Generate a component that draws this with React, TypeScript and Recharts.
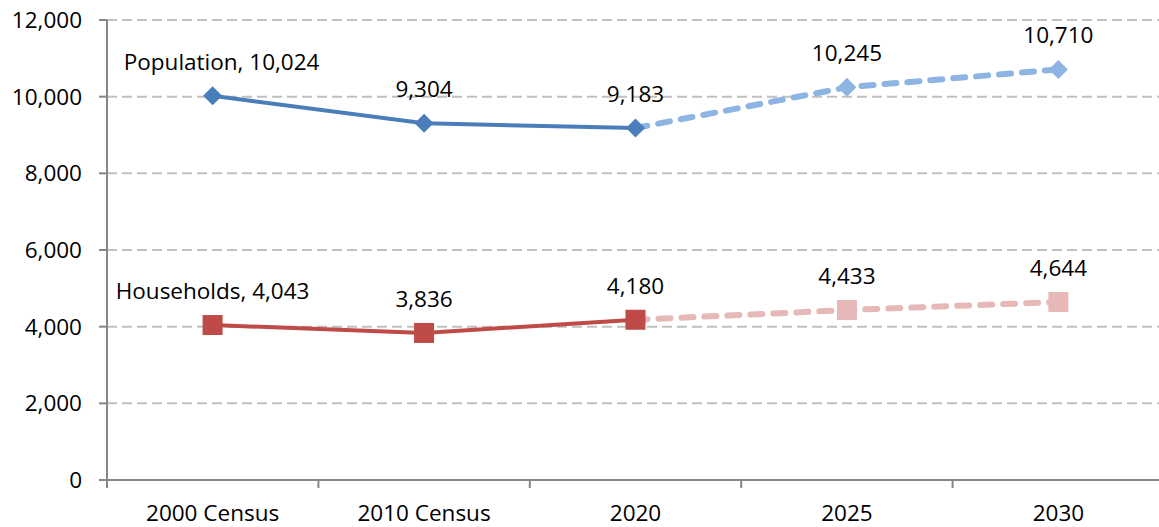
import React from 'react';
import { LineChart, Line, XAxis, YAxis, CartesianGrid } from 'recharts';

// Census counts and projections
const periods = ['2000 Census', '2010 Census', '2020', '2025', '2030'];
const population = [10024, 9304, 9183, 10245, 10710];
const households = [4043, 3836, 4180, 4433, 4644];
const lastActual = 2; // index of 2020, after that values are projections
const yTicks = [0, 2000, 4000, 6000, 8000, 10000, 12000];
const edgeTicks = [0, 1, 2, 3, 4, 5];

const data = periods.map((period, i) => ({
  idx: i,
  period,
  popActual: i <= lastActual ? population[i] : null,
  popProj: i >= lastActual ? population[i] : null,
  hhActual: i <= lastActual ? households[i] : null,
  hhProj: i >= lastActual ? households[i] : null,
}));

const FONT = "'Open Sans', 'Noto Sans', sans-serif";
const FS = 22.5;
const AXIS = '#868686';
const fmt = (v: number) => v.toLocaleString('en-US');

const Diamond = (fill: string, skip: number) => (props: any) => {
  const { cx, cy, index, value } = props;
  if (value == null || index === skip || cx == null) return <g key={`d${index}`} />;
  const r = 9.5;
  return (
    <path
      key={`d${index}`}
      d={`M${cx},${cy - r}L${cx + r},${cy}L${cx},${cy + r}L${cx - r},${cy}Z`}
      fill={fill}
    />
  );
};

const Square = (fill: string, skip: number) => (props: any) => {
  const { cx, cy, index, value } = props;
  if (value == null || index === skip || cx == null) return <g key={`s${index}`} />;
  const h = 10;
  return <rect key={`s${index}`} x={cx - h} y={cy - h} width={h * 2} height={h * 2} fill={fill} />;
};

const makeLabel = (name: string, skip: number) => (props: any) => {
  const { x, y, value, index } = props;
  if (value == null || index === skip) return null;
  const text = index === 0 ? `${name}, ${fmt(value)}` : fmt(value);
  return (
    <text
      key={`l${name}${index}`}
      x={x + (index === 0 && name === 'Population' ? 9 : 0)}
      y={y - 26}
      textAnchor="middle"
      fontFamily={FONT}
      fontSize={FS}
      fill="#000"
    >
      {text}
    </text>
  );
};

export default function App() {
  return (
    <div style={{ position: 'absolute', left: 0, top: 0, width: 1159, height: 527, overflow: 'hidden', background: '#fff' }}>
      <LineChart width={1170} height={527} data={data} margin={{ top: 20, right: 6, bottom: 0, left: 0 }}>
        <CartesianGrid xAxisId="b" vertical={false} stroke="#C0C0C0" strokeWidth={2} strokeDasharray="10 5" />
        {/* boundary ticks between categories, plus the axis line */}
        <XAxis
          xAxisId="a"
          type="number"
          dataKey="idx"
          domain={[-0.5, 4.5]}
          ticks={edgeTicks.map((t) => t - 0.5)}
          tickFormatter={() => ''}
          tickSize={8}
          tickLine={{ stroke: AXIS, strokeWidth: 2 }}
          axisLine={{ stroke: AXIS, strokeWidth: 2 }}
          height={1}
        />
        <XAxis
          xAxisId="b"
          dataKey="period"
          padding={{ left: 105.6, right: 105.6 }}
          tickLine={false}
          axisLine={false}
          tickMargin={18}
          height={46}
          interval={0}
          tick={{ fill: '#000', fontSize: FS, fontFamily: FONT }}
        />
        <YAxis
          width={107}
          domain={[0, 12000]}
          ticks={yTicks}
          tickFormatter={fmt}
          tickSize={8}
          tickMargin={17}
          tickLine={{ stroke: AXIS, strokeWidth: 2 }}
          axisLine={{ stroke: AXIS, strokeWidth: 2 }}
          tick={{ fill: '#000', fontSize: FS, fontFamily: FONT }}
        />
        <Line
          xAxisId="b"
          dataKey="popProj"
          stroke="#8DB4E3"
          strokeWidth={6}
          strokeDasharray="12 11"
          strokeLinecap="round"
          dot={Diamond('#8DB4E3', lastActual)}
          label={makeLabel('Population', lastActual)}
          isAnimationActive={false}
        />
        <Line
          xAxisId="b"
          dataKey="hhProj"
          stroke="#E6B9B8"
          strokeWidth={6}
          strokeDasharray="12 11"
          strokeLinecap="round"
          dot={Square('#E6B9B8', lastActual)}
          label={makeLabel('Households', lastActual)}
          isAnimationActive={false}
        />
        <Line
          xAxisId="b"
          dataKey="popActual"
          stroke="#4A7EBB"
          strokeWidth={4}
          dot={Diamond('#4A7EBB', -1)}
          label={makeLabel('Population', -1)}
          isAnimationActive={false}
        />
        <Line
          xAxisId="b"
          dataKey="hhActual"
          stroke="#BE4B48"
          strokeWidth={4}
          dot={Square('#BE4B48', -1)}
          label={makeLabel('Households', -1)}
          isAnimationActive={false}
        />
      </LineChart>
    </div>
  );
}
